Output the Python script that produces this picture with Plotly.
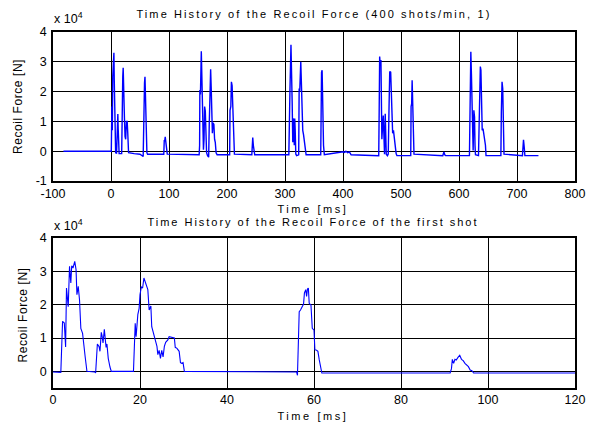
import json
import plotly.graph_objects as go

# ---- Recoil force record, 400 shots/min (time in ms, force in 1e4 N) ----
burst_t = [
    -82, 0, 0.5, 1.5, 2.3, 3.0, 3.6, 4.2, 5.0, 5.6, 6.3, 7.2, 8.0, 9.6, 10.2, 10.8, 11.8, 12.4,
    13.2, 14.0, 18.4, 18.9, 19.4, 20.3, 21.0, 21.8, 22.5, 23.2, 24.2, 25.3, 26.6, 27.9, 28.8,
    29.6, 30.3, 40.0, 50.0, 55.5, 56.2, 56.6, 57.8, 58.6, 59.2, 59.8, 60.4, 61.2, 61.9, 63.0,
    91.0, 91.8, 92.6, 93.5, 94.5, 95.8, 97.0,
    152.0, 152.8, 153.2, 154.2, 155.7, 156.6, 157.6, 158.6, 159.4, 160.4, 161.4, 162.6, 163.6,
    164.8, 166.5, 168.4, 169.4, 170.4, 171.8, 172.8, 173.8, 174.8, 176.0, 177.4, 178.6, 179.8,
    181.2, 183.0, 204.6, 205.2, 206.6, 207.6, 208.8, 210.0, 211.4, 212.8, 242.8, 243.6, 244.4,
    245.4, 246.6, 247.8,
    306.6, 307.4, 308.6, 310.3, 311.2, 312.4, 313.4, 314.4, 315.2, 316.0, 316.8, 317.6, 318.6,
    320.0, 323.6, 324.4, 325.4, 327.2, 328.4, 329.4, 330.6, 332.0, 333.6, 335.0, 336.4, 361.6,
    362.2, 363.0, 364.0, 365.2, 366.4, 367.8, 400.5, 403.0, 405.0, 408.0, 411.0, 414.0,
    461.6, 462.4, 463.2, 464.2, 465.4, 466.2, 467.0, 469.4, 470.4, 471.6, 472.8, 473.6, 474.6,
    476.6, 478.0, 479.4, 480.6, 482.2, 483.4, 484.4, 485.6, 487.0, 488.6, 490.0, 491.6, 493.0,
    516.8, 517.4, 518.4, 519.2, 520.2, 521.2, 522.4, 572.0, 574.0, 575.5, 577.0,
    618.0, 618.6, 619.2, 620.4, 621.4, 622.4, 623.4, 624.4, 625.6, 626.8, 627.6, 628.4, 633.6,
    634.4, 635.4, 636.8, 637.8, 638.8, 640.0, 641.4, 642.8, 644.2, 645.6, 646.6, 672.2, 673.0,
    674.2, 675.4, 676.4, 677.6, 709.4, 710.4, 711.2, 712.4, 713.6, 737.0,
]
burst_f = [
    0, 0, 0.0, 1.5, 0.7, 2.5, 3.1, 2.7, 3.3, 2.4, 1.3, 0.4, -0.05, -0.08, 0.8, 0.55, 1.25, 0.75,
    0.1, -0.08, -0.08, 1.4, 1.0, 2.5, 2.8, 2.4, 1.9, 1.1, 0.5, 0.4, 1.0, 1.0, 0.65,
    0.25, -0.05, -0.08, -0.1, -0.18, 0.8, 1.8, 2.3, 2.5, 2.0, 1.25, 0.65, 0.35, -0.05, -0.1,
    -0.1, 0.35, 0.35, 0.48, 0.3, 0.05, -0.1,
    -0.12, 0.2, 2.05, 1.9, 3.35, 2.6, 1.3, 0.8, 0.05, 0.4, 1.5, 1.35, 0.3,
    -0.05, -0.15, -0.2, 0.9, 2.1, 2.75, 2.1, 0.8, 0.6, 0.95, 0.9, 0.4, 0.3,
    -0.05, -0.12, -0.12, 1.37, 1.5, 2.33, 2.2, 1.4, 0.3, -0.1, -0.12, 0.3, 0.46,
    0.2, 0.05, -0.12,
    -0.12, 2.1, 2.1, 3.57, 2.9, 1.6, 0.3, 1.1, 0.9, 0.2, 1.1, 0.7, -0.1,
    -0.15, -0.12, 2.1, 2.0, 3.0, 2.0, 0.9, 0.7, 0.55, 0.35, 0.1, -0.12, -0.12,
    2.0, 2.65, 2.72, 1.2, 0.2, -0.12, -0.02, -0.04, 0.0, -0.05, -0.02, -0.12,
    -0.15, 1.4, 3.18, 2.9, 3.06, 1.5, 0.4, 1.2, 0.3, -0.1, 1.26, 0.9, -0.1,
    -0.15, -0.1, 1.5, 2.67, 2.65, 1.8, 0.8, 0.6, 0.7, 0.4, 0.15, -0.08, -0.15,
    -0.15, 1.5, 1.6, 2.38, 1.6, 0.9, -0.1, -0.15, -0.03, -0.12, -0.15,
    -0.15, 0.8, 2.05, 3.34, 2.6, 1.8, 0.25, 0.02, 1.37, 1.15, 0.2, -0.12, -0.15,
    0.5, 2.0, 2.84, 2.72, 1.72, 0.7, 0.76, 0.58, 0.3, 0.2, -0.15, -0.15, 1.31,
    2.33, 2.1, 1.3, -0.1, -0.15, 0.25, 0.38, 0.15, -0.15, -0.15,
]

# ---- First shot in detail ----
shot_t = [
    0, 1.8, 2.2, 2.6, 2.9, 3.1, 3.5, 3.8, 4.1, 4.3, 4.6, 5.0, 5.3, 5.5, 5.8, 6.1, 6.4, 6.8, 7.4,
    7.8, 9.6, 9.8, 10.2, 10.6, 10.8, 11.1, 11.3, 11.5, 11.8, 12.0, 12.2, 12.4, 12.7, 13.1, 13.4,
    18.5, 18.9, 19.1, 19.3, 19.5, 19.8, 20.0, 20.3, 20.6, 20.9, 21.2, 21.5, 21.8, 22.1, 22.3,
    22.5, 22.7, 23.0, 23.3, 23.6, 23.9, 24.1, 24.4, 24.7, 25.0, 25.3, 25.6, 25.9, 26.4, 26.7,
    27.6, 27.9, 28.1, 28.5, 29.0, 29.3, 29.6, 29.9, 30.2, 56.0, 56.2, 56.4, 56.6, 56.9, 57.3,
    57.6, 57.8, 58.1, 58.3, 58.5, 58.7, 58.9, 59.3, 59.6, 60.0, 60.2, 60.6, 60.9, 61.2, 61.6,
    61.8, 91.3, 91.6, 91.8, 92.1, 92.4, 92.7, 93.1, 93.5, 93.9, 94.3, 94.7, 95.1, 95.5, 95.9,
    96.3, 96.7, 120,
]
shot_f = [
    -0.02, -0.03, 1.5, 1.45, 0.73, 2.5, 1.94, 3.15, 2.65, 3.17, 3.1, 3.3, 3.05, 2.3, 2.55, 2.14,
    1.29, 1.14, 0.43, 0.0, -0.02, -0.05, 0.82, 0.74, 0.6, 1.17, 1.05, 0.85, 1.26, 0.95, 0.72,
    0.82, 0.39, 0.13, 0.0, 0.0, 1.44, 1.04, 1.46, 1.7, 1.89, 2.3, 2.53, 2.5, 2.8, 2.67, 2.6,
    2.45, 1.84, 1.94, 1.96, 1.34, 1.19, 1.04, 0.85, 0.75, 0.5, 0.63, 0.39, 0.63, 0.43, 0.75,
    0.87, 0.94, 1.04, 1.0, 1.0, 0.72, 0.69, 0.6, 0.26, 0.24, 0.26, 0.0, -0.02, -0.12, 0.73,
    1.79, 1.84, 1.92, 2.02, 2.35, 2.45, 2.25, 2.47, 2.5, 2.04, 1.99, 1.29, 1.24, 0.65, 0.63,
    0.6, 0.35, 0.04, -0.05, -0.05, 0.08, 0.36, 0.24, 0.36, 0.34, 0.42, 0.48, 0.36, 0.32, 0.24,
    0.19, 0.14, 0.04, 0.02, -0.05, -0.05,
]

top_xticks = [-100, 0, 100, 200, 300, 400, 500, 600, 700, 800]
top_yticks = [-1, 0, 1, 2, 3, 4]
bot_xticks = [0, 20, 40, 60, 80, 100, 120]
bot_yticks = [0, 1, 2, 3, 4]

W, H = 596, 423
FONT = "Liberation Sans, Arial, sans-serif"


def px(x):
    return x / W


def py(y):
    return 1 - y / H


fig = go.Figure()
fig.add_trace(go.Scatter(x=burst_t, y=burst_f, mode="lines",
                         line=dict(color="#0000ff", width=1.4),
                         xaxis="x", yaxis="y", showlegend=False))
fig.add_trace(go.Scatter(x=shot_t, y=shot_f, mode="lines",
                         line=dict(color="#0000ff", width=1.1),
                         xaxis="x2", yaxis="y2", showlegend=False))

axis_common = dict(
    showline=True, mirror=True, linecolor="black", linewidth=1.5,
    showgrid=True, gridcolor="black", gridwidth=1,
    zeroline=False, ticks="",
    tickfont=dict(family=FONT, size=12.5, color="black"),
    automargin=False, fixedrange=True,
)


def tick_axis(vals):
    # plain hyphen-minus labels, as a classic plotting package prints them
    return dict(tickvals=vals, ticktext=[str(v) for v in vals])


fig.update_layout(
    width=W, height=H,
    margin=dict(l=0, r=0, t=0, b=0, autoexpand=False),
    paper_bgcolor="white", plot_bgcolor="white",
    xaxis=dict(domain=[px(53), px(575)], range=[-100, 800], anchor="y",
               ticklabelstandoff=0, **tick_axis(top_xticks), **axis_common),
    yaxis=dict(domain=[py(181), py(32)], range=[-1, 4], anchor="x",
               ticklabelstandoff=2, **tick_axis(top_yticks), **axis_common),
    xaxis2=dict(domain=[px(53), px(575)], range=[0, 120], anchor="y2",
                ticklabelstandoff=-1, **tick_axis(bot_xticks), **axis_common),
    yaxis2=dict(domain=[py(388), py(238)], range=[-0.5, 4], anchor="x2",
                ticklabelstandoff=2, **tick_axis(bot_yticks), **axis_common),
)

labels = [
    dict(text="Time History of the Recoil Force (400 shots/min, 1)", x=314, y=14.5, size=11),
    dict(text="Time [ms]", x=312.5, y=208.5, size=11),
    dict(text="Recoil Force [N]", x=18, y=106.5, size=12, angle=-90),
    dict(text="Time History of the Recoil Force of the first shot", x=312.5, y=222, size=11),
    dict(text="Time [ms]", x=312.5, y=416, size=11),
    dict(text="Recoil Force [N]", x=23, y=315, size=12, angle=-90),
]
for lab in labels:
    fig.add_annotation(
        text=lab["text"], x=px(lab["x"]), y=py(lab["y"]), xref="paper", yref="paper",
        xanchor="center", yanchor="middle", showarrow=False,
        textangle=lab.get("angle", 0),
        font=dict(family=FONT, size=lab["size"], color="black"),
    )

for y_mid in (18, 225):
    fig.add_annotation(
        text="x 10<sup>4</sup>", x=px(52), y=py(y_mid), xref="paper", yref="paper",
        xanchor="left", yanchor="middle", showarrow=False,
        font=dict(family=FONT, size=12.5, color="black"),
    )

# widen the spaced-out caption lettering to its set run length
spread_widths = {
    "Time History of the Recoil Force (400 shots/min, 1)": 355,
    "Time History of the Recoil Force of the first shot": 331,
    "Time [ms]": 71,
    "Recoil Force [N]": 95,
    "x 104": 34,
}
post = """
(function(){
  var widths = %s;
  function spread(){
    var gd = document.getElementById('{plot_id}');
    if (!gd) return;
    gd.querySelectorAll('text.annotation-text').forEach(function(el){
      var s = el.textContent;
      if (!(s in widths)) return;
      el.style.letterSpacing = '0px';
      var have = el.getComputedTextLength();
      el.style.letterSpacing = ((widths[s] - have) / s.length) + 'px';
    });
  }
  spread();
  setTimeout(spread, 0);
})();
""" % json.dumps(spread_widths)

fig.write_html("out.html", post_script=post)
